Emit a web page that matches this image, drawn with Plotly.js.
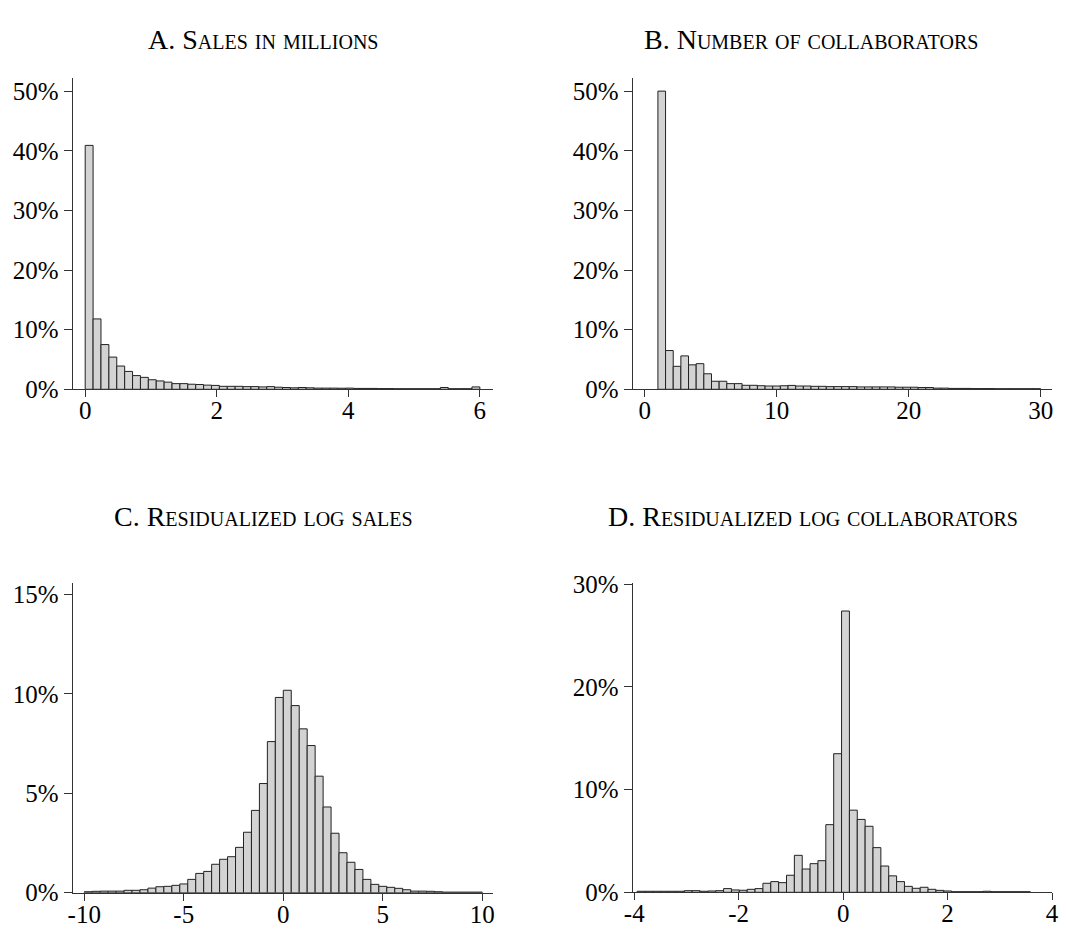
<!DOCTYPE html>
<html>
<head>
<meta charset="utf-8">
<script src="https://cdn.plot.ly/plotly-3.0.1.min.js"></script>
<style>html,body{margin:0;padding:0;background:#fff;}#chart{width:1066px;height:932px;}</style>
</head>
<body>
<div id="chart"></div>
<script>
// Panel titles
const titles = ["A. Sales in millions", "B. Number of collaborators", "C. Residualized log sales", "D. Residualized log collaborators"];

// Panel A: sales in millions (share of firms, %), 50 bins from 0 to 6
const salesBinStart = 0, salesBinWidth = 0.12;
const salesShare = [40.9,11.8,7.5,5.4,3.9,3.0,2.3,2.0,1.6,1.4,1.2,0.95,0.95,0.85,0.8,0.7,0.65,0.5,0.5,0.5,0.45,0.45,0.4,0.45,0.35,
  0.3,0.25,0.3,0.25,0.2,0.2,0.2,0.18,0.2,0.15,0.15,0.15,0.12,0.12,0.1,0.1,0.1,0.1,0.1,0.1,0.3,0.1,0.1,0.1,0.4];

// Panel B: number of collaborators, 50 bins from 1 to 30
const collabBinStart = 1, collabBinWidth = 0.58;
const collabShare = [50.0,6.5,3.85,5.6,4.1,4.3,2.6,1.35,1.35,0.95,0.95,0.67,0.67,0.6,0.55,0.55,0.6,0.65,0.55,0.55,0.5,0.5,
  0.45,0.45,0.45,0.45,0.4,0.4,0.4,0.4,0.4,0.35,0.35,0.35,0.3,0.3,
  0.2,0.2,0.15,0.15,0.15,0.12,0.12,0.12,0.1,0.1,0.1,0.1,0.1,0.1];

// Panel C: residualized log sales, 50 bins from -10 to 10
const resSalesBinStart = -10, resSalesBinWidth = 0.4;
const resSalesShare = [0.05,0.07,0.08,0.08,0.08,0.12,0.12,0.15,0.23,0.3,0.32,0.37,0.44,0.67,0.97,1.07,1.43,1.68,1.81,2.28,3.04,4.14,5.49,7.6,9.82,
  10.18,9.41,8.24,7.4,5.86,4.31,2.99,2.01,1.53,1.17,0.67,0.42,0.32,0.27,0.22,0.15,0.08,0.08,0.07,0.05,0.03,0.03,0.03,0.03,0.03];

// Panel D: residualized log collaborators, 50 bins from -3.946
const resCollabBinStart = -3.946, resCollabBinWidth = 0.1506;
const resCollabShare = [0.1,0.1,0.1,0.1,0.1,0.1,0.16,0.16,0.1,0.13,0.16,0.36,0.23,0.2,0.29,0.36,0.88,1.04,0.94,1.66,3.6,2.27,2.79,3.08,6.59,13.5,
  27.4,8.0,7.1,6.43,4.35,2.56,1.6,1.04,0.58,0.39,0.49,0.29,0.19,0.13,0.06,0.06,0.06,0.06,0.1,0.06,0.06,0.06,0.06,0.06];

// Tick labels
const tickA = [0,2,4,6], tickAText = ["0","2","4","6"];
const tickB = [0,10,20,30], tickBText = ["0","10","20","30"];
const tickC = [-10,-5,0,5,10], tickCText = ["-10","-5","0","5","10"];
const tickD = [-4,-2,0,2,4], tickDText = ["-4","-2","0","2","4"];
const yTickAB = [0,10,20,30,40,50], yTickABText = ["0%","10%","20%","30%","40%","50%"];
const yTickC = [0,5,10,15], yTickCText = ["0%","5%","10%","15%"];
const yTickD = [0,10,20,30], yTickDText = ["0%","10%","20%","30%"];

function centers(start, width, n){ const c=[]; for(let i=0;i<n;i++) c.push(start+width*(i+0.5)); return c; }

function barTrace(start, width, vals, xa, ya){
  return {type:'bar', x:centers(start,width,vals.length), y:vals, width:width, xaxis:xa, yaxis:ya,
    marker:{color:'#d3d3d3', line:{color:'#222', width:1}}, hoverinfo:'skip', showlegend:false};
}

const data = [
  barTrace(salesBinStart, salesBinWidth, salesShare, 'x', 'y'),
  barTrace(collabBinStart, collabBinWidth, collabShare, 'x2', 'y2'),
  barTrace(resSalesBinStart, resSalesBinWidth, resSalesShare, 'x3', 'y3'),
  barTrace(resCollabBinStart, resCollabBinWidth, resCollabShare, 'x4', 'y4')
];

const W=1066, H=932;
const px = v => v/W, py = v => 1 - v/H;
const fnt = {family:'"Liberation Serif", "DejaVu Serif", serif', size:25, color:'#000'};
function xax(dom, range, tv, tt, anchor){
  return {domain:dom, range:range, tickmode:'array', tickvals:tv, ticktext:tt, showline:true, linecolor:'#333', linewidth:1,
    ticks:'outside', ticklen:7, tickcolor:'#333', showgrid:false, zeroline:false, tickfont:fnt, anchor:anchor, fixedrange:true,
    ticklabelstandoff:-8};
}
function yax(dom, range, tv, tt, anchor){
  return {domain:dom, range:range, tickmode:'array', tickvals:tv, ticktext:tt, showline:true, linecolor:'#333', linewidth:1,
    ticks:'outside', ticklen:8, tickcolor:'#333', showgrid:false, zeroline:false, tickfont:fnt, anchor:anchor, fixedrange:true};
}

const titleFont = {family:'"Liberation Serif", "DejaVu Serif", serif', size:28, color:'#000', variant:'small-caps'};
const layout = {
  width:W, height:H, margin:{l:0,r:0,t:0,b:0}, paper_bgcolor:'#fff', plot_bgcolor:'#fff', bargap:0,
  xaxis: xax([px(72.7), px(493)], [-0.19, 6.2], tickA, tickAText, 'y'),
  yaxis: yax([py(389.3), py(78)], [0, 52.2], yTickAB, yTickABText, 'x'),
  xaxis2: xax([px(632.7), px(1052)], [-0.91, 30.86], tickB, tickBText, 'y2'),
  yaxis2: yax([py(389.3), py(78)], [0, 52.2], yTickAB, yTickABText, 'x2'),
  xaxis3: xax([px(72.7), px(493.3)], [-10.58, 10.55], tickC, tickCText, 'y3'),
  yaxis3: yax([py(892.7), py(583.3)], [0, 15.56], yTickC, yTickCText, 'x3'),
  xaxis4: xax([px(632.7), px(1052)], [-4.03, 4.0], tickD, tickDText, 'y4'),
  yaxis4: yax([py(892.3), py(583.3)], [0, 30.1], yTickD, yTickDText, 'x4'),
  annotations: [
    {text:titles[0], x:px(263), y:py(40)},
    {text:titles[1], x:px(811), y:py(40)},
    {text:titles[2], x:px(263), y:py(516)},
    {text:titles[3], x:px(813), y:py(516)}
  ].map(a => Object.assign(a, {xref:'paper', yref:'paper', xanchor:'center', yanchor:'middle', showarrow:false, font:titleFont}))
};

Plotly.newPlot('chart', data, layout, {staticPlot:true, displayModeBar:false});
</script>
</body>
</html>
